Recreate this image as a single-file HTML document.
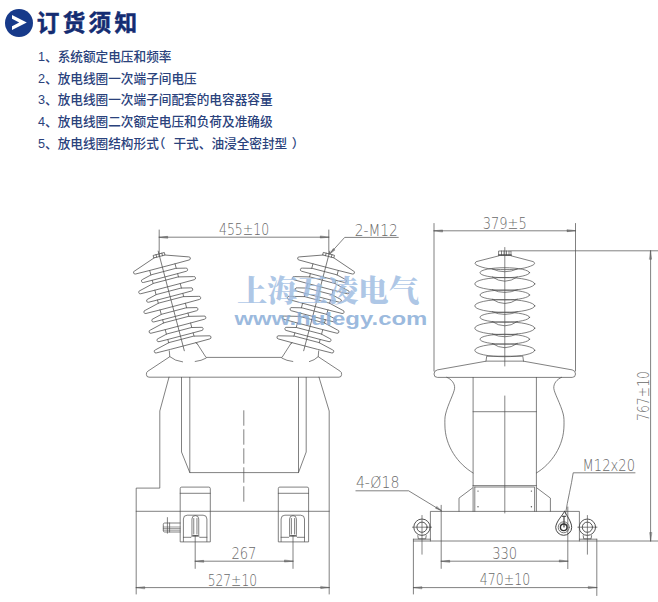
<!DOCTYPE html>
<html lang="zh-CN">
<head>
<meta charset="utf-8">
<title>订货须知</title>
<style>
html,body{margin:0;padding:0;background:#fff;}
body{width:658px;height:602px;position:relative;overflow:hidden;font-family:"Liberation Sans","Noto Sans CJK SC",sans-serif;}
.icon{position:absolute;left:4.8px;top:8.9px;width:27.8px;height:27.8px;border-radius:50%;background:#173a8a;}
.title{position:absolute;left:36.8px;top:7.3px;margin:0;font-size:22.6px;line-height:34px;font-weight:700;color:#142c72;letter-spacing:3.3px;white-space:nowrap;-webkit-text-stroke:0.5px #142c72;}
.list{position:absolute;left:38px;top:47.1px;font-weight:500;margin:0;padding:0;list-style:none;font-size:12.65px;line-height:21.67px;color:#2a427c;white-space:nowrap;}
.pl{margin:0 8px 0 -6px;}.pr{margin-left:4.5px;}
.list li{margin:0;padding:0;}
svg{position:absolute;left:0;top:0;}
</style>
</head>
<body>
<div class="icon"></div>
<h1 class="title">订货须知</h1>
<ul class="list">
<li>1、系统额定电压和频率</li>
<li>2、放电线圈一次端子间电压</li>
<li>3、放电线圈一次端子间配套的电容器容量</li>
<li>4、放电线圈二次额定电压和负荷及准确级</li>
<li>5、放电线圈结构形式<span class="pl">（</span>干式、油浸全密封型<span class="pr">）</span></li>
</ul>
<svg width="658" height="602" viewBox="0 0 658 602">
<path d="M12 15L26.8 22.5L12 30V26.2L19.2 22.5L12 18.8Z" fill="#fff"/>
<g fill="none" stroke="#505050" stroke-width="0.72" stroke-linecap="round" stroke-linejoin="round">
<g transform="translate(159.2 255) rotate(-14.7)"><path d="M-5.6 1.5L-27.7 9.2A1.6 1.6 0 0 0 -27.7 12.4L-13.1 12.53L13.1 12.53L27.7 12.4A1.6 1.6 0 0 0 27.7 9.2L5.6 1.5"/><path d="M-13.1 17.22L-22.2 19.4A1.6 1.6 0 0 0 -22.2 22.6L-13.1 22.68L13.1 22.68L22.2 22.6A1.6 1.6 0 0 0 22.2 19.4L13.1 17.22Z"/><path d="M-13.1 12.53V17.22M13.1 12.53V17.22"/><path d="M-13.1 26.09L-27.7 29.6A1.6 1.6 0 0 0 -27.7 32.8L-13.1 32.93L13.1 32.93L27.7 32.8A1.6 1.6 0 0 0 27.7 29.6L13.1 26.09Z"/><path d="M-13.1 22.68V26.09M13.1 22.68V26.09"/><path d="M-13.1 37.62L-22.2 39.8A1.6 1.6 0 0 0 -22.2 43L-13.1 43.08L13.1 43.08L22.2 43A1.6 1.6 0 0 0 22.2 39.8L13.1 37.62Z"/><path d="M-13.1 32.93V37.62M13.1 32.93V37.62"/><path d="M-13.1 46.49L-27.7 50A1.6 1.6 0 0 0 -27.7 53.2L-13.1 53.33L13.1 53.33L27.7 53.2A1.6 1.6 0 0 0 27.7 50L13.1 46.49Z"/><path d="M-13.1 43.08V46.49M13.1 43.08V46.49"/><path d="M-13.1 58.02L-22.2 60.2A1.6 1.6 0 0 0 -22.2 63.4L-13.1 63.48L13.1 63.48L22.2 63.4A1.6 1.6 0 0 0 22.2 60.2L13.1 58.02Z"/><path d="M-13.1 53.33V58.02M13.1 53.33V58.02"/><path d="M-13.1 66.89L-27.7 70.4A1.6 1.6 0 0 0 -27.7 73.6L-13.1 73.73L13.1 73.73L27.7 73.6A1.6 1.6 0 0 0 27.7 70.4L13.1 66.89Z"/><path d="M-13.1 63.48V66.89M13.1 63.48V66.89"/><path d="M-13.1 78.42L-22.2 80.6A1.6 1.6 0 0 0 -22.2 83.8L-13.1 83.88L13.1 83.88L22.2 83.8A1.6 1.6 0 0 0 22.2 80.6L13.1 78.42Z"/><path d="M-13.1 73.73V78.42M13.1 73.73V78.42"/><path d="M-13.1 87.29L-27.7 90.8A1.6 1.6 0 0 0 -27.7 94L-13.1 94.13L13.1 94.13L27.7 94A1.6 1.6 0 0 0 27.7 90.8L13.1 87.29Z"/><path d="M-13.1 83.88V87.29M13.1 83.88V87.29"/><path d="M13.1 94.13L14.2 95.6"/><path d="M-5.6 -1.1H5.6V1.5H-5.6ZM-3 -1.1V1.5M3 -1.1V1.5"/><path d="M0 -4V99" stroke-width="0.7"/></g>
<g transform="translate(328.8 255) rotate(14.7)"><path d="M-5.6 1.5L-27.7 9.2A1.6 1.6 0 0 0 -27.7 12.4L-13.1 12.53L13.1 12.53L27.7 12.4A1.6 1.6 0 0 0 27.7 9.2L5.6 1.5"/><path d="M-13.1 17.22L-22.2 19.4A1.6 1.6 0 0 0 -22.2 22.6L-13.1 22.68L13.1 22.68L22.2 22.6A1.6 1.6 0 0 0 22.2 19.4L13.1 17.22Z"/><path d="M-13.1 12.53V17.22M13.1 12.53V17.22"/><path d="M-13.1 26.09L-27.7 29.6A1.6 1.6 0 0 0 -27.7 32.8L-13.1 32.93L13.1 32.93L27.7 32.8A1.6 1.6 0 0 0 27.7 29.6L13.1 26.09Z"/><path d="M-13.1 22.68V26.09M13.1 22.68V26.09"/><path d="M-13.1 37.62L-22.2 39.8A1.6 1.6 0 0 0 -22.2 43L-13.1 43.08L13.1 43.08L22.2 43A1.6 1.6 0 0 0 22.2 39.8L13.1 37.62Z"/><path d="M-13.1 32.93V37.62M13.1 32.93V37.62"/><path d="M-13.1 46.49L-27.7 50A1.6 1.6 0 0 0 -27.7 53.2L-13.1 53.33L13.1 53.33L27.7 53.2A1.6 1.6 0 0 0 27.7 50L13.1 46.49Z"/><path d="M-13.1 43.08V46.49M13.1 43.08V46.49"/><path d="M-13.1 58.02L-22.2 60.2A1.6 1.6 0 0 0 -22.2 63.4L-13.1 63.48L13.1 63.48L22.2 63.4A1.6 1.6 0 0 0 22.2 60.2L13.1 58.02Z"/><path d="M-13.1 53.33V58.02M13.1 53.33V58.02"/><path d="M-13.1 66.89L-27.7 70.4A1.6 1.6 0 0 0 -27.7 73.6L-13.1 73.73L13.1 73.73L27.7 73.6A1.6 1.6 0 0 0 27.7 70.4L13.1 66.89Z"/><path d="M-13.1 63.48V66.89M13.1 63.48V66.89"/><path d="M-13.1 78.42L-22.2 80.6A1.6 1.6 0 0 0 -22.2 83.8L-13.1 83.88L13.1 83.88L22.2 83.8A1.6 1.6 0 0 0 22.2 80.6L13.1 78.42Z"/><path d="M-13.1 73.73V78.42M13.1 73.73V78.42"/><path d="M-13.1 87.29L-27.7 90.8A1.6 1.6 0 0 0 -27.7 94L-13.1 94.13L13.1 94.13L27.7 94A1.6 1.6 0 0 0 27.7 90.8L13.1 87.29Z"/><path d="M-13.1 83.88V87.29M13.1 83.88V87.29"/><path d="M-13.1 94.13L-14.2 95.6"/><path d="M-5.6 -1.1H5.6V1.5H-5.6ZM-3 -1.1V1.5M3 -1.1V1.5"/><path d="M0 -4V99" stroke-width="0.7"/></g>
<path d="M169.3 350.9L169.8 356.7L148 371.1Q146.2 372 146.4 374.5Q146.4 377.2 149 377.2H339Q341.6 377.2 341.6 374.5Q341.8 372 340 371.1L318.2 356.7L318.7 350.9" />
<path d="M197.2 343.7L206 357.4H282L290.8 343.7" />
<path d="M169.8 356.7Q175 361 182.6 361.9" />
<path d="M195.2 361.5Q201.5 360.8 206 358.2" />
<path d="M318.2 356.7Q314.5 360.3 309.4 361.6" />
<path d="M292.8 361.5Q286.5 360.8 282 358.2" />
<path d="M169 377.2L159.8 411V488.1H136.2V594" />
<path d="M319 377.2L329.2 411V594" />
<path d="M181.5 377.4V452L189.8 472.6M189.8 377.4V472.6H298.5V377.4M306.2 377.4V452L298.5 472.6" />
<path d="M136.2 511.3H329.2" />
<path d="M243.8 410.3V503.3" stroke-dasharray="15.4 3.6" stroke-linecap="butt"/>
<path d="M180.2 541.5V488.6Q180.2 487.1 181.7 487.1H208.8Q210.3 487.1 210.3 488.6V541.5Z" />
<path d="M180.2 493.3H210.3" />
<path d="M183.4 541.5V519Q183.4 515.2 187.2 515.2H203.1Q206.9 515.2 206.9 519V541.5" />
<path d="M183.4 537.3H191.15Q192.35 537 191.95 534.2V519A3.4 3.4 0 0 1 198.75 519V534.2Q198.35 537 199.55 537.3H206.9" />
<path d="M193.75 518.5V534M196.95 518.5V534" />
<path d="M192.85 535.8H197.85" stroke="#333" stroke-width="1.3"/>
<path d="M278.3 541.5V488.6Q278.3 487.1 279.8 487.1H307.1Q308.6 487.1 308.6 488.6V541.5Z" />
<path d="M278.3 493.3H308.6" />
<path d="M281.1 541.5V519Q281.1 515.2 284.9 515.2H300.7Q304.5 515.2 304.5 519V541.5" />
<path d="M281.1 537.3H288.8Q290 537 289.6 534.2V519A3.4 3.4 0 0 1 296.4 519V534.2Q296 537 297.2 537.3H304.5" />
<path d="M291.4 518.5V534M294.6 518.5V534" />
<path d="M290.5 535.8H295.5" stroke="#333" stroke-width="1.3"/>
<path d="M180.2 523H164.6Q163.3 523 163.3 524.5V530.5Q163.3 532 164.6 532H180.2M167.4 517.6V533.2M169.6 523V532" />
<path d="M163.3 527H180.2M163.3 528.6H180.2M163.3 530.2H180.2" stroke-width="0.6"/>
<path d="M159.2 230V256M328.8 230V254M159.2 237.2H328.8" />
<path d="M159.2 237.2L167.7 236.3L167.7 238.1Z" fill="#777" stroke-width="0.4"/>
<path d="M328.8 237.2L320.3 238.1L320.3 236.3Z" fill="#777" stroke-width="0.4"/>
<path d="M398.3 237.4H344.7L330 253.6" />
<path d="M330 253.6L333.29 248.48L334.77 249.83Z" fill="#777" stroke-width="0.4"/>
<path d="M195.2 535.5V568.4M293 535.5V568.4M195.2 561.2H293" />
<path d="M195.2 561.2L203.7 560.3L203.7 562.1Z" fill="#777" stroke-width="0.4"/>
<path d="M293 561.2L284.5 562.1L284.5 560.3Z" fill="#777" stroke-width="0.4"/>
<path d="M136.2 587.6H329.2" />
<path d="M136.2 587.6L144.7 586.7L144.7 588.5Z" fill="#777" stroke-width="0.4"/>
<path d="M329.2 587.6L320.7 588.5L320.7 586.7Z" fill="#777" stroke-width="0.4"/>
<path d="M355.9 490.8H408.6L441.2 510.6" />
<path d="M441.2 510.6L435.55 508.34L436.59 506.63Z" fill="#777" stroke-width="0.4"/>
<path d="M434 223.5V371M575.5 223.5V371M434 230.8H575.5" />
<path d="M434 230.8L442.5 229.9L442.5 231.7Z" fill="#777" stroke-width="0.4"/>
<path d="M575.5 230.8L567 231.7L567 229.9Z" fill="#777" stroke-width="0.4"/>
<path d="M499 251H511V255H499ZM501.5 251V255M504 251V255M506.5 251V255M509 251V255" />
<path d="M498.6 255.2H511.4" stroke="#444" stroke-width="1.2"/>
<path d="M511 250.8H658" />
<path d="M504.8 247.5V366M504.8 396V513" stroke-width="0.7"/>
<path d="M499 255.8L476.1 261.7Q473.9 263.2 476 264.8C483.8 268.7 492.8 269.6 504.8 269.6C516.8 269.6 525.8 268.7 533.6 264.8Q535.7 263.2 533.5 261.7L511 255.8" />
<path d="M492.3 269.02Q504.8 274.58 517.3 269.02" />
<ellipse cx="504.8" cy="272.7" rx="24.8" ry="5"/>
<path d="M492.3 277.02Q504.8 285.58 517.3 277.02" />
<ellipse cx="504.8" cy="283.9" rx="30" ry="6.4"/>
<path d="M492.3 289.72Q504.8 295.28 517.3 289.72" />
<ellipse cx="504.8" cy="295" rx="24.8" ry="5"/>
<path d="M492.3 299.32Q504.8 307.88 517.3 299.32" />
<ellipse cx="504.8" cy="305.9" rx="30" ry="6.4"/>
<path d="M492.3 311.72Q504.8 317.28 517.3 311.72" />
<ellipse cx="504.8" cy="317.3" rx="24.8" ry="5"/>
<path d="M492.3 321.62Q504.8 330.18 517.3 321.62" />
<ellipse cx="504.8" cy="328.2" rx="30" ry="6.4"/>
<path d="M492.3 334.02Q504.8 339.58 517.3 334.02" />
<ellipse cx="504.8" cy="339.2" rx="24.8" ry="5"/>
<path d="M492.3 343.52Q504.8 352.08 517.3 343.52" />
<ellipse cx="504.8" cy="350.3" rx="30" ry="6.4"/>
<path d="M486 361.2L486.7 356.2H522.8L523.5 361.2" />
<path d="M486 361.2L437.4 369.9Q434 370.6 434 374Q434 377.4 437.4 377.4H572.2Q575.5 377.4 575.5 374Q575.5 370.6 572.2 369.9L523.5 361.2Z" />
<path d="M446.8 377.3C451.5 379.3 455 383.5 454.6 388.3C454.2 393 448 404 445.6 414C444.6 418 444.9 421 444.9 425C444.9 446 458 464 473.1 473" />
<path d="M561.6 377.3C556.9 379.3 553.4 383.5 553.8 388.3C554.2 393 560.6 404 563.2 414C564.2 418 564 421 564 425C564 446 551.4 464 536.4 473" />
<path d="M473.1 377.4V511.3M536.4 377.4V511.3M473.1 411.7H536.4" />
<path d="M473 485.6H536.4M474.8 487H534.6V511.3M474.8 487V511.3" />
<path d="M459 511.3V498.1L472.5 488M550.4 511.3V498.1L536.9 488" />
<circle cx="478" cy="491.1" r="0.7" fill="#555" stroke="none"/>
<circle cx="531.4" cy="491.1" r="0.7" fill="#555" stroke="none"/>
<circle cx="478" cy="506.8" r="0.7" fill="#555" stroke="none"/>
<circle cx="531.4" cy="506.8" r="0.7" fill="#555" stroke="none"/>
<path d="M430.4 541V511.4H579.4V541M413.4 541H658M413.4 539.2V594M596.8 539.2V595.5" />
<path d="M441.2 505.3V568.4M567.8 507V568.6" />
<circle cx="422.0" cy="527.2" r="8.2" stroke="#555" stroke-width="1"/>
<circle cx="422.0" cy="527.2" r="5.1" stroke="#555" stroke-width="1"/>
<path d="M412.4 527.2H431.6M422.0 515.5V554.2" stroke-width="0.7"/>
<path d="M417.8 535.6L418.3 538.8H425.7L426.2 535.6" stroke="#444"/>
<circle cx="587.4" cy="527.2" r="8.2" stroke="#555" stroke-width="1"/>
<circle cx="587.4" cy="527.2" r="5.1" stroke="#555" stroke-width="1"/>
<path d="M577.8 527.2H597M587.4 515.5V554.2" stroke-width="0.7"/>
<path d="M583.2 535.6L583.7 538.8H591.1L591.6 535.6" stroke="#444"/>
<path d="M413.4 539.2H430.4M579.4 539.2H596.8" />
<path d="M564.6 511.4C562 516 556.2 521.5 555.7 527.3A8 8 0 1 0 571.7 527.3C571.4 521.5 567 516 564.6 511.4Z" stroke="#444" stroke-width="1"/>
<circle cx="563.7" cy="527.3" r="5.5" stroke="#555" stroke-width="0.8"/>
<circle cx="563.7" cy="527.3" r="3.3" stroke="#333" stroke-width="1.4"/>
<path d="M564 517V527M562.3 516.3H565.7" stroke="#333" stroke-width="1.1"/>
<path d="M635 472.8H573.2C571.5 485 567.5 500 565.5 514" />
<path d="M441.2 561.2H567.8" />
<path d="M441.2 561.2L449.7 560.3L449.7 562.1Z" fill="#777" stroke-width="0.4"/>
<path d="M567.8 561.2L559.3 562.1L559.3 560.3Z" fill="#777" stroke-width="0.4"/>
<path d="M413.4 587.6H596.8" />
<path d="M413.4 587.6L421.9 586.7L421.9 588.5Z" fill="#777" stroke-width="0.4"/>
<path d="M596.8 587.6L588.3 588.5L588.3 586.7Z" fill="#777" stroke-width="0.4"/>
<path d="M650.6 250.8V541" />
<path d="M650.6 250.8L651.5 259.3L649.7 259.3Z" fill="#777" stroke-width="0.4"/>
<path d="M650.6 541L649.7 532.5L651.5 532.5Z" fill="#777" stroke-width="0.4"/>
</g>
<g fill="#6a6a6a" font-family="'DejaVu Sans Light','DejaVu Sans','Liberation Sans',sans-serif" font-weight="200">
<text x="219" y="235" textLength="50.1" lengthAdjust="spacingAndGlyphs" font-size="15.5">455±10</text>
<text x="354.8" y="235.5" textLength="43" lengthAdjust="spacingAndGlyphs" font-size="15.5">2-M12</text>
<text x="482.8" y="228.7" textLength="43.9" lengthAdjust="spacingAndGlyphs" font-size="15.5">379±5</text>
<text x="231.4" y="559" textLength="25.1" lengthAdjust="spacingAndGlyphs" font-size="15.5">267</text>
<text x="207.7" y="585.5" textLength="49.3" lengthAdjust="spacingAndGlyphs" font-size="15.5">527±10</text>
<text x="355.9" y="488.4" textLength="43.5" lengthAdjust="spacingAndGlyphs" font-size="15.5">4-Ø18</text>
<text x="492.2" y="559.2" textLength="25" lengthAdjust="spacingAndGlyphs" font-size="15.5">330</text>
<text x="479.8" y="585.4" textLength="50.4" lengthAdjust="spacingAndGlyphs" font-size="15.5">470±10</text>
<text x="582.5" y="470.7" textLength="52.5" lengthAdjust="spacingAndGlyphs" font-size="15.5">M12x20</text>
<text x="0" y="0" textLength="50" lengthAdjust="spacingAndGlyphs" font-size="15.5" transform="translate(648.8 421) rotate(-90)">767±10</text>
</g>
<g font-weight="700" fill-opacity="0.85">
<text x="237" y="300.8" font-size="30" font-weight="900" fill="#9fbde2" textLength="182" lengthAdjust="spacingAndGlyphs" font-family="'Liberation Serif','Noto Serif CJK SC',serif">上海互凌电气</text>
<text x="234.4" y="325" font-size="19" fill="#8aaed8" textLength="193" lengthAdjust="spacingAndGlyphs" font-family="'Liberation Sans','DejaVu Sans',sans-serif">www.hulegy.com</text>
</g>
</svg>
</body>
</html>
